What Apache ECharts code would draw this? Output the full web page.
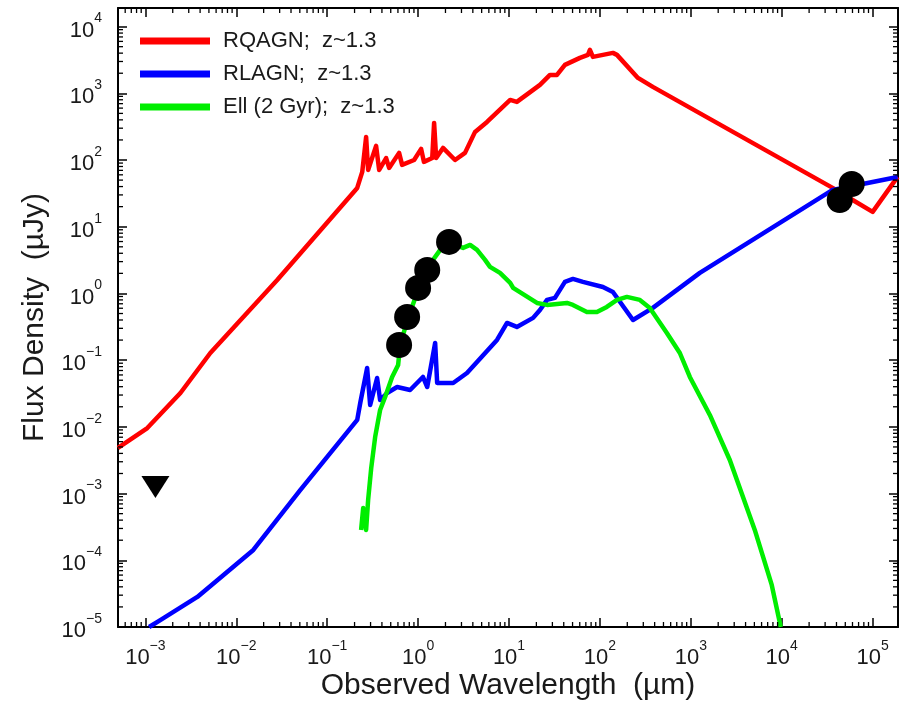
<!DOCTYPE html>
<html>
<head>
<meta charset="utf-8">
<script src="https://cdn.jsdelivr.net/npm/echarts@6/dist/echarts.min.js"></script>
<style>
html,body{margin:0;padding:0;background:#fff;}
#chart{width:906px;height:701px;}
</style>
</head>
<body>
<div id="chart"></div>
<script>
// ---- data ----
const seriesNames = ['RQAGN;  z~1.3', 'RLAGN;  z~1.3', 'Ell (2 Gyr);  z~1.3'];

const redX = [5.0e-4, 1.05e-3, 2.43e-3, 5.18e-3, 0.0282, 0.214, 0.243, 0.268, 0.282, 0.345, 0.373, 0.445, 0.480, 0.618, 0.667, 0.904, 1.08, 1.16, 1.43, 1.50, 1.58, 1.88, 2.55, 3.28, 4.23, 5.73, 10.3, 12.2, 21.9, 28.2, 33.7, 41.2, 60.3, 73.8, 77.6, 83.7, 139, 154, 262, 382, 36300, 60300, 1.0e5, 1.88e5];
const redY = [4.83e-3, 9.6e-3, 0.0322, 0.128, 1.59, 38.2, 66.3, 222, 71, 163, 71, 107, 76, 128, 84.5, 100, 147, 93.7, 107, 360, 107, 152, 100, 128, 264, 372, 796, 743, 1337, 1888, 1888, 2667, 3396, 3767, 4478, 3516, 4036, 3767, 1702, 1247, 38.2, 25.2, 16.7, 55.8];

const blueX = [1.1e-3, 1.46e-3, 3.73e-3, 0.0154, 0.0505, 0.214, 0.231, 0.275, 0.297, 0.354, 0.382, 0.456, 0.588, 0.817, 1.13, 1.26, 1.54, 1.62, 2.43, 3.45, 7.38, 9.51, 12.2, 18.4, 21.9, 26.2, 32.0, 41.2, 50.5, 65.0, 108, 139, 231, 382, 1256, 36300, 1.88e5];
const blueY = [1.0e-5, 1.27e-5, 2.82e-5, 1.43e-4, 1.13e-3, 0.0127, 0.0228, 0.0764, 0.0213, 0.0541, 0.0253, 0.0322, 0.0396, 0.0357, 0.056, 0.0396, 0.181, 0.0455, 0.0455, 0.0643, 0.201, 0.361, 0.315, 0.43, 0.566, 0.80, 0.857, 1.49, 1.65, 1.49, 1.25, 1.05, 0.40, 0.607, 2.03, 35.6, 55.8];

const greenX = [0.236, 0.249, 0.268, 0.282, 0.305, 0.337, 0.382, 0.434, 0.518, 0.603, 0.634, 0.776, 1.0, 1.26, 1.75, 2.25, 3.12, 3.73, 4.45, 5.45, 6.18, 7.96, 10.3, 11.1, 20.3, 26.2, 43.4, 50.5, 71.9, 92.7, 119, 154, 198, 275, 354, 545, 757, 975, 1618, 2683, 5050, 7760, 9750];
const greenY = [2.85e-4, 6.08e-4, 2.85e-4, 8.0e-4, 2.42e-3, 7.06e-3, 0.0179, 0.0281, 0.056, 0.0847, 0.169, 0.43, 1.13, 2.41, 4.49, 5.72, 4.81, 5.34, 4.49, 3.18, 2.50, 2.03, 1.44, 1.21, 0.721, 0.673, 0.721, 0.673, 0.528, 0.528, 0.628, 0.80, 0.887, 0.80, 0.607, 0.256, 0.128, 0.056, 0.0151, 3.19e-3, 2.85e-4, 4.27e-5, 1.0e-5];

const dotX = [0.618, 0.757, 1.0, 1.26, 2.19, 43400, 58800];
const dotY = [0.169, 0.444, 1.21, 2.25, 5.92, 25.2, 43.8];

const limitX = [1.29e-3];
const limitY = [1.26e-3];

const xMin = 5e-4, xMax = 1.9e5;
const yMin = 1e-5, yMax = 1.9e4;
const xTitle = 'Observed Wavelength  (\u00b5m)';
const yTitle = 'Flux Density  (\u00b5Jy)';

// ---- helpers ----
const zip = (a, b) => a.map((v, i) => [v, b[i]]);
const FONT = '"Liberation Sans", Arial, Helvetica, sans-serif';
const TXT = '#1a1a1a';

function powLabel(v) {
  const e = Math.round(Math.log10(v));
  const s = e < 0 ? '\u2212' + (-e) : String(e);
  return '{b|10}{s|' + s + '}';
}
const richLabel = {
  b: { fontSize: 22, lineHeight: 30, verticalAlign: 'bottom', fontFamily: FONT, color: TXT },
  s: { fontSize: 14, lineHeight: 14, verticalAlign: 'top', fontFamily: FONT, color: TXT }
};

// minor tick values (axis decoration only)
function minorTicks(lo, hi) {
  const out = [];
  for (let k = Math.floor(Math.log10(lo)) - 1; k <= Math.ceil(Math.log10(hi)); k++) {
    for (let m = 2; m <= 9; m++) {
      const v = m * Math.pow(10, k);
      if (v > lo && v < hi) out.push(v);
    }
  }
  return out;
}
const xMinor = minorTicks(xMin, xMax);
const yMinor = minorTicks(yMin, yMax);

const axisLineStyle = { color: '#000', width: 2 };
const tickStyle = { color: '#000', width: 1.5 };

function logAxisX(pos, show) {
  return {
    type: 'log', logBase: 10, min: xMin, max: xMax, position: pos,
    axisLine: { show: true, onZero: false, lineStyle: axisLineStyle },
    axisTick: { show: true, inside: true, length: 9, lineStyle: tickStyle },
    splitLine: { show: false },
    axisLabel: show ? {
      show: true, interval: 0, margin: 12, formatter: powLabel, rich: richLabel,
      showMinLabel: false, showMaxLabel: false
    } : { show: false },
    name: show ? xTitle : '',
    nameLocation: 'middle', nameGap: 44, nameMoveOverlap: false,
    nameTextStyle: { fontSize: 30, fontFamily: FONT, color: TXT }
  };
}
function logAxisY(pos, show) {
  return {
    type: 'log', logBase: 10, min: yMin, max: yMax, position: pos,
    axisLine: { show: true, onZero: false, lineStyle: axisLineStyle },
    axisTick: { show: true, inside: true, length: 9, lineStyle: tickStyle },
    splitLine: { show: false },
    axisLabel: show ? {
      show: true, interval: 0, margin: 16, formatter: powLabel, rich: richLabel,
      showMinLabel: true, showMaxLabel: false
    } : { show: false },
    name: show ? yTitle : '',
    nameLocation: 'middle', nameGap: 68, nameMoveOverlap: false,
    nameTextStyle: { fontSize: 30, fontFamily: FONT, color: TXT }
  };
}

const chart = echarts.init(document.getElementById('chart'), null, { renderer: 'canvas' });

const option = {
  backgroundColor: '#fff',
  animation: false,
  textStyle: { fontFamily: FONT },
  grid: { left: 118, right: 8, top: 8, bottom: 74, containLabel: false, outerBoundsMode: 'none' },
  xAxis: [logAxisX('bottom', true), logAxisX('top', false)],
  yAxis: [logAxisY('left', true), logAxisY('right', false)],
  legend: {
    data: seriesNames,
    orient: 'vertical',
    left: 140, top: 28, padding: 0,
    itemWidth: 70, itemHeight: 7, itemGap: 7,
    icon: 'rect',
    textStyle: { fontSize: 22, lineHeight: 26, color: TXT, fontFamily: FONT, padding: [0, 0, 0, 8] },
    selectedMode: false
  },
  series: [
    {
      name: seriesNames[0], type: 'line', data: zip(redX, redY),
      showSymbol: false, symbol: 'none', color: '#ff0000',
      lineStyle: { width: 4.5, color: '#ff0000', join: 'round' }, clip: true, z: 2
    },
    {
      name: seriesNames[1], type: 'line', data: zip(blueX, blueY),
      showSymbol: false, symbol: 'none', color: '#0000ff',
      lineStyle: { width: 4.5, color: '#0000ff', join: 'round' }, clip: true, z: 3
    },
    {
      name: seriesNames[2], type: 'line', data: zip(greenX, greenY),
      showSymbol: false, symbol: 'none', color: '#00ee00',
      lineStyle: { width: 4.5, color: '#00ee00', join: 'round' }, clip: true, z: 4
    },
    {
      name: 'photometry', type: 'scatter', data: zip(dotX, dotY),
      symbol: 'circle', symbolSize: 26, itemStyle: { color: '#000', opacity: 1 }, z: 6
    },
    {
      name: 'upper limit', type: 'scatter', data: zip(limitX, limitY),
      symbol: 'triangle', symbolRotate: 180, symbolSize: [28, 22],
      itemStyle: { color: '#000', opacity: 1 }, z: 6
    }
  ]
};
chart.setOption(option);

// minor ticks drawn at positions given by the axes' own scales
(function drawMinorTicks() {
  const g = [];
  const yb = chart.convertToPixel({ yAxisIndex: 0 }, yMin);
  const yt = chart.convertToPixel({ yAxisIndex: 0 }, yMax);
  const xl = chart.convertToPixel({ xAxisIndex: 0 }, xMin);
  const xr = chart.convertToPixel({ xAxisIndex: 0 }, xMax);
  const st = { stroke: '#000', lineWidth: 1.3 };
  xMinor.forEach(v => {
    const x = chart.convertToPixel({ xAxisIndex: 0 }, v);
    g.push({ type: 'line', silent: true, z: 100, shape: { x1: x, y1: yb, x2: x, y2: yb - 5 }, style: st });
    g.push({ type: 'line', silent: true, z: 100, shape: { x1: x, y1: yt, x2: x, y2: yt + 5 }, style: st });
  });
  yMinor.forEach(v => {
    const y = chart.convertToPixel({ yAxisIndex: 0 }, v);
    g.push({ type: 'line', silent: true, z: 100, shape: { x1: xl, y1: y, x2: xl + 5, y2: y }, style: st });
    g.push({ type: 'line', silent: true, z: 100, shape: { x1: xr, y1: y, x2: xr - 5, y2: y }, style: st });
  });
  chart.setOption({ graphic: g });
})();
</script>
</body>
</html>
